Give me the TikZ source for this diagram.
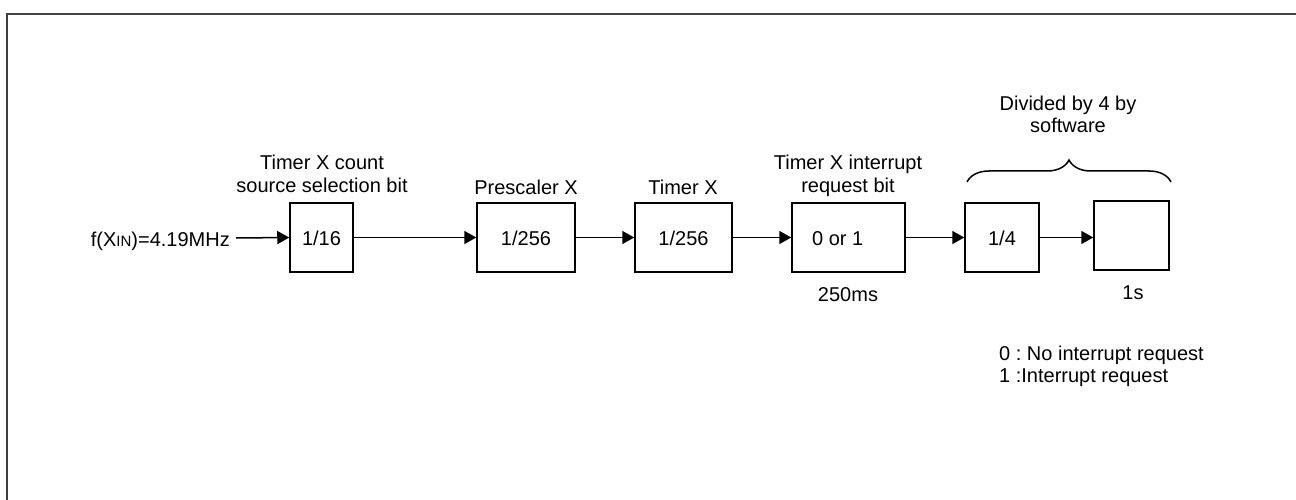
\documentclass[tikz,border=0pt]{standalone}
\usepackage{fontspec}
\setmainfont{Liberation Sans}
\frenchspacing
\usetikzlibrary{arrows.meta,decorations.pathreplacing,positioning}
\begin{document}
\begin{tikzpicture}[x=1pt,y=-1pt,
  blk/.style={draw,line width=1.5pt,inner sep=0pt},
  lbl/.style={inner sep=0pt,align=center,font=\fontsize{20}{22}\selectfont},
  conn/.style={line width=1.5pt,-{Triangle[length=12pt,width=13pt]}}]
\useasboundingbox (0,0) rectangle (1296,500);
\draw[line width=2pt,black!75] (7,500) -- (7,14) -- (1296,14);
% boxes
\node[blk,minimum width=63pt,minimum height=69pt] (b1) at (321.5,237.5) {};
\node[blk,minimum width=98pt,minimum height=69pt] (b2) at (526,237.5) {};
\node[blk,minimum width=97pt,minimum height=69pt] (b3) at (683.5,237.5) {};
\node[blk,minimum width=113pt,minimum height=69pt] (b4) at (848.5,237.5) {};
\node[blk,minimum width=74pt,minimum height=69pt] (b5) at (1002,237.5) {};
\node[blk,minimum width=75pt,minimum height=69pt] (b6) at (1131.5,235.5) {};
% box texts
\node[lbl,anchor=base] at (321.5,245) {1/16};
\node[lbl,anchor=base] at (526,245) {1/256};
\node[lbl,anchor=base] at (683.5,245) {1/256};
\node[lbl,anchor=base west] at (812,245) {0 or 1};
\node[lbl,anchor=base] at (1002,245) {1/4};
% input
\node[lbl,anchor=base east] (in) at (230,246) {f(X{\fontsize{15}{16}\selectfont IN})=4.19MHz};
\coordinate (inend) at (236,238);
% connectors
\draw[conn] (inend) -- (b1.west);
\draw[conn] (b1.east) -- (b2.west);
\draw[conn] (b2.east) -- (b3.west);
\draw[conn] (b3.east) -- (b4.west);
\draw[conn] (b4.east) -- (b5.west);
\draw[conn] (b5.east) -- (b5.east -| b6.west);
% labels
\node[lbl,anchor=base] at (322,192) {Timer X count\\source selection bit};
\node[lbl,anchor=base] at (526,194) {Prescaler X};
\node[lbl,anchor=base] at (683,194) {Timer X};
\node[lbl,anchor=base] at (848,192) {Timer X interrupt\\request bit};
\node[lbl,anchor=base] at (848,301) {250ms};
\node[lbl,anchor=base] at (1133,299) {1s};
\node[lbl,anchor=base] at (1068,133) {Divided by 4 by\\software};
\node[lbl,anchor=base west,align=left] at (999,382) {0 : No interrupt request\\1 :Interrupt request};
% brace
\coordinate (br1) at (967,182);
\coordinate (br2) at (1171,182);
\draw[line width=1.5pt,decorate,decoration={brace,amplitude=22pt}] (br1) -- (br2);
\end{tikzpicture}
\end{document}
